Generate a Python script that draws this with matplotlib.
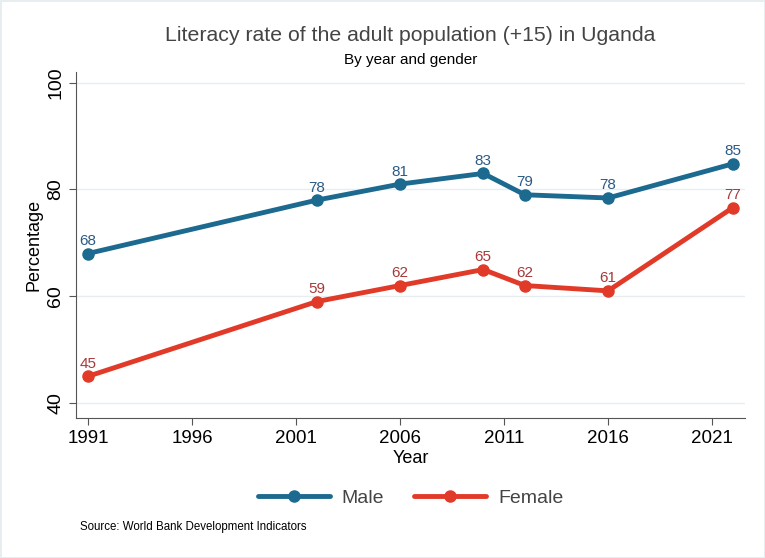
import matplotlib.pyplot as plt

plt.rcParams['font.family'] = ['Liberation Sans', 'DejaVu Sans']

# Literacy rate (+15) in Uganda, by gender
years = [1991, 2002, 2006, 2010, 2012, 2016, 2022]
male = [68, 78, 81, 83, 79, 78.4, 84.8]
female = [45, 59, 62, 65, 62, 61, 76.6]
xticks = [1991, 1996, 2001, 2006, 2011, 2016, 2021]
yticks = [40, 60, 80, 100]

male_col = '#1c6a8f'
female_col = '#e23a28'

fig = plt.figure(figsize=(7.65, 5.58), dpi=100)
ax = fig.add_axes([0.0993, 0.251, 0.875, 0.62])
xc = 0.0993 + 0.875 / 2  # centre of the plot area

ax.plot(years, male, color=male_col, linewidth=3.5, marker='o', markersize=8,
        label='Male', solid_capstyle='round')
ax.plot(years, female, color=female_col, linewidth=3.5, marker='o', markersize=8,
        label='Female', solid_capstyle='round')

for x, y in zip(years, male):
    ax.annotate(f'{y:.0f}', (x, y), xytext=(0, 4), textcoords='offset points',
                ha='center', va='bottom', fontsize=11, color='#2b5a87')
for x, y in zip(years, female):
    ax.annotate(f'{y:.0f}', (x, y), xytext=(0, 4), textcoords='offset points',
                ha='center', va='bottom', fontsize=11, color='#a8383a')

ax.set_xlim(1990.42, 2022.6)
ax.set_ylim(37.2, 102)
ax.set_xticks(xticks)
ax.set_yticks(yticks)
ax.tick_params(axis='x', labelsize=13.5, color='#555555', length=5)
ax.tick_params(axis='y', labelsize=14, color='#555555', length=5)
for lab in ax.get_yticklabels():
    lab.set_rotation(90)
    lab.set_va('center')

ax.spines[['top', 'right']].set_visible(False)
ax.spines[['left', 'bottom']].set_color('#555555')
ax.yaxis.grid(True, color='#e6eef2', linewidth=1)
ax.set_axisbelow(True)

ax.set_xlabel('Year', fontsize=13, labelpad=2)
ax.set_ylabel('Percentage', fontsize=13, labelpad=3)

fig.text(xc, 0.937, 'Literacy rate of the adult population (+15) in Uganda',
         ha='center', va='center', fontsize=15.3, color='#444444')
fig.text(xc, 0.893, 'By year and gender', ha='center', va='center', fontsize=11)

fig.legend(handles=ax.get_lines(), loc='center', bbox_to_anchor=(xc, 0.108),
           ncol=2, frameon=False, fontsize=14, handlelength=3.7, handletextpad=0.6,
           columnspacing=1.55, labelcolor='#444444')

fig.text(0.104, 0.05, 'Source: World Bank Development Indicators', fontsize=8.3)

fig.patch.set_edgecolor('#e8eef0')
fig.patch.set_linewidth(2)

plt.savefig('out.png', dpi=100)
